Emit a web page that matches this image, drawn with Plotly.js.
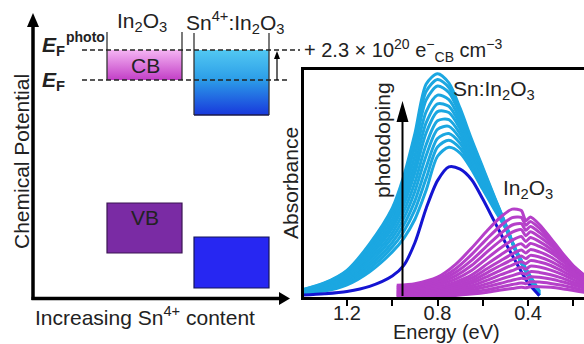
<!DOCTYPE html>
<html>
<head>
<meta charset="utf-8">
<script src="https://cdn.plot.ly/plotly-3.0.1.min.js"></script>
<style>
  html, body { margin: 0; padding: 0; overflow: hidden; background: #fff; }
  #chart { width: 584px; height: 344px; }
</style>
</head>
<body>
<div id="chart"></div>
<script>
// ---- Absorbance spectra ----
// Energy grid (eV) of the Sn:In2O3 spectra
const snEnergy = [1.40, 1.30, 1.20, 1.10, 1.00, 0.95, 0.90, 0.85, 0.80, 0.75, 0.70, 0.65, 0.60, 0.55, 0.50, 0.45, 0.40, 0.35];

// Sn:In2O3 after successive photodoping steps (highest first)
const snPhotodoped = [
  [0.035, 0.065, 0.120, 0.235, 0.390, 0.527, 0.714, 0.930, 0.975, 0.935, 0.824, 0.691, 0.567, 0.443, 0.322, 0.193, 0.096, 0.010],
  [0.034, 0.063, 0.116, 0.227, 0.377, 0.508, 0.688, 0.898, 0.950, 0.915, 0.810, 0.682, 0.560, 0.439, 0.321, 0.194, 0.097, 0.011],
  [0.033, 0.060, 0.111, 0.217, 0.362, 0.487, 0.658, 0.861, 0.921, 0.893, 0.795, 0.671, 0.553, 0.435, 0.319, 0.194, 0.098, 0.013],
  [0.031, 0.056, 0.104, 0.204, 0.341, 0.457, 0.617, 0.810, 0.882, 0.862, 0.774, 0.657, 0.542, 0.428, 0.317, 0.195, 0.100, 0.015],
  [0.030, 0.052, 0.097, 0.191, 0.321, 0.429, 0.578, 0.762, 0.844, 0.833, 0.753, 0.643, 0.532, 0.423, 0.315, 0.196, 0.101, 0.017],
  [0.028, 0.049, 0.091, 0.179, 0.303, 0.403, 0.543, 0.718, 0.810, 0.806, 0.735, 0.631, 0.523, 0.417, 0.314, 0.196, 0.102, 0.019],
  [0.026, 0.045, 0.084, 0.166, 0.282, 0.374, 0.502, 0.667, 0.770, 0.775, 0.713, 0.616, 0.513, 0.411, 0.312, 0.197, 0.104, 0.021],
  [0.025, 0.041, 0.078, 0.153, 0.262, 0.345, 0.463, 0.619, 0.733, 0.746, 0.693, 0.603, 0.503, 0.405, 0.310, 0.198, 0.105, 0.024],
  [0.023, 0.038, 0.071, 0.140, 0.241, 0.316, 0.422, 0.568, 0.693, 0.715, 0.672, 0.588, 0.492, 0.399, 0.308, 0.199, 0.107, 0.026],
  [0.022, 0.034, 0.064, 0.127, 0.221, 0.288, 0.383, 0.520, 0.656, 0.686, 0.651, 0.574, 0.483, 0.393, 0.306, 0.199, 0.108, 0.028],
  [0.020, 0.030, 0.057, 0.114, 0.200, 0.258, 0.342, 0.469, 0.616, 0.655, 0.630, 0.560, 0.472, 0.387, 0.304, 0.200, 0.110, 0.030]
];

// Sn:In2O3 before photodoping
const snAsPrepared = [0.012, 0.018, 0.028, 0.050, 0.095, 0.140, 0.240, 0.390, 0.510, 0.570, 0.560, 0.515, 0.430, 0.335, 0.240, 0.150, 0.065, 0.010];

// Energy grid (eV) of the In2O3 spectra
const inEnergy = [0.98, 0.90, 0.80, 0.72, 0.65, 0.58, 0.52, 0.47, 0.43, 0.41, 0.39, 0.35, 0.30, 0.25, 0.20, 0.15, 0.10];

// In2O3 photodoping series (highest first)
const inSpectra = [
  [0.055, 0.062, 0.090, 0.146, 0.216, 0.293, 0.353, 0.386, 0.380, 0.335, 0.352, 0.319, 0.260, 0.197, 0.140, 0.098, 0.063],
  [0.050, 0.056, 0.080, 0.127, 0.188, 0.259, 0.315, 0.349, 0.350, 0.316, 0.332, 0.303, 0.250, 0.193, 0.138, 0.096, 0.063],
  [0.045, 0.051, 0.071, 0.111, 0.163, 0.228, 0.281, 0.317, 0.323, 0.294, 0.310, 0.285, 0.240, 0.187, 0.137, 0.096, 0.063],
  [0.042, 0.046, 0.063, 0.096, 0.141, 0.201, 0.250, 0.286, 0.297, 0.270, 0.288, 0.266, 0.228, 0.181, 0.134, 0.094, 0.064],
  [0.037, 0.041, 0.055, 0.082, 0.119, 0.173, 0.218, 0.251, 0.267, 0.245, 0.263, 0.245, 0.213, 0.172, 0.128, 0.091, 0.062],
  [0.033, 0.036, 0.047, 0.069, 0.099, 0.148, 0.188, 0.219, 0.236, 0.220, 0.237, 0.224, 0.198, 0.161, 0.122, 0.087, 0.060],
  [0.028, 0.031, 0.041, 0.059, 0.086, 0.128, 0.163, 0.191, 0.208, 0.195, 0.210, 0.200, 0.178, 0.146, 0.112, 0.080, 0.055],
  [0.025, 0.028, 0.035, 0.050, 0.074, 0.110, 0.142, 0.166, 0.182, 0.171, 0.185, 0.178, 0.159, 0.132, 0.101, 0.073, 0.051],
  [0.022, 0.024, 0.030, 0.042, 0.063, 0.093, 0.121, 0.143, 0.157, 0.149, 0.162, 0.156, 0.141, 0.117, 0.091, 0.066, 0.046],
  [0.018, 0.020, 0.025, 0.035, 0.052, 0.077, 0.101, 0.119, 0.133, 0.125, 0.138, 0.134, 0.121, 0.102, 0.079, 0.058, 0.041],
  [0.015, 0.016, 0.020, 0.028, 0.042, 0.062, 0.082, 0.097, 0.108, 0.103, 0.114, 0.111, 0.101, 0.086, 0.067, 0.050, 0.035],
  [0.012, 0.013, 0.016, 0.021, 0.033, 0.049, 0.064, 0.077, 0.086, 0.083, 0.092, 0.090, 0.082, 0.070, 0.056, 0.041, 0.029],
  [0.009, 0.010, 0.012, 0.016, 0.025, 0.036, 0.048, 0.058, 0.065, 0.062, 0.070, 0.069, 0.063, 0.055, 0.044, 0.032, 0.023],
  [0.006, 0.007, 0.008, 0.011, 0.017, 0.025, 0.034, 0.041, 0.046, 0.044, 0.049, 0.049, 0.046, 0.040, 0.032, 0.024, 0.017]
];

// Energy axis ticks
const energyTicks = [1.2, 1.0, 0.8, 0.6, 0.4, 0.2];
const energyTickText = ['1.2', '', '0.8', '', '0.4', ''];

// ---- Styling ----
const FONT = 'Liberation Sans, Arial, Helvetica, sans-serif';
const INK = '#222';
const CYAN = '#1ba7e1';
const NAVY = '#1414d2';
const MAGENTA = '#b53fc9';

const traces = [];

// Sn:In2O3 photodoping series (lowest drawn first)
for (let i = snPhotodoped.length - 1; i >= 0; i--) {
  traces.push({
    type: 'scatter', mode: 'lines', x: snEnergy, y: snPhotodoped[i],
    line: {color: CYAN, width: 3, shape: 'spline', smoothing: 0.8},
    hoverinfo: 'skip', showlegend: false, xaxis: 'x', yaxis: 'y'
  });
}
traces.push({
  type: 'scatter', mode: 'lines', x: snEnergy, y: snAsPrepared,
  line: {color: NAVY, width: 3, shape: 'spline', smoothing: 0.8},
  hoverinfo: 'skip', showlegend: false, xaxis: 'x', yaxis: 'y'
});
// In2O3 series on top
for (let i = inSpectra.length - 1; i >= 0; i--) {
  traces.push({
    type: 'scatter', mode: 'lines', x: inEnergy, y: inSpectra[i],
    line: {color: MAGENTA, width: 3, shape: 'spline', smoothing: 0.7},
    hoverinfo: 'skip', showlegend: false, xaxis: 'x', yaxis: 'y'
  });
}

// ---- Band diagram (drawn on a pixel-scaled overlay axis pair) ----
function bandBox(x0, x1, y0, y1, scale) {
  return {
    type: 'scatter', mode: 'lines',
    x: [x0, x1, x1, x0, x0], y: [y0, y0, y1, y1, y0],
    fill: 'toself',
    fillgradient: {type: 'vertical', colorscale: scale, start: y0, stop: y1},
    line: {width: 0},
    hoverinfo: 'skip', showlegend: false, xaxis: 'x2', yaxis: 'y2'
  };
}
traces.push(bandBox(107, 182, 50, 80, [[0, '#f5b4f3'], [1, '#c23fc6']]));
traces.push(bandBox(194, 269, 50, 115, [[0, '#52c8f2'], [0.45, '#2c9ee8'], [1, '#1838dc']]));

const P = {xref: 'x2', yref: 'y2'};
function line(x0, y0, x1, y1, width, color, dash) {
  return Object.assign({type: 'line', x0, y0, x1, y1, line: {width, color, dash: dash || 'solid'}}, P);
}
function tri(path) {
  return Object.assign({type: 'path', path, fillcolor: '#000', line: {width: 0}}, P);
}
const shapes = [
  // chemical potential axis and composition axis
  line(33, 300, 33, 24, 3.5, '#000'),
  tri('M 27 27 L 33 13 L 39 27 Z'),
  line(31.5, 298.5, 281, 298.5, 3.5, '#000'),
  tri('M 279 292 L 290 298.5 L 279 305 Z'),
  // valence bands
  Object.assign({type: 'rect', x0: 107, x1: 182, y0: 203, y1: 253, fillcolor: '#7a2ba4', line: {width: 1.2, color: '#3a1452'}}, P),
  Object.assign({type: 'rect', x0: 194, x1: 269, y0: 237, y1: 288, fillcolor: '#2727f2', line: {width: 1.2, color: '#14145a'}}, P),
  // conduction band walls
  line(107, 32, 107, 80, 1.3, '#333'),
  line(182, 32, 182, 80, 1.3, '#333'),
  line(194, 33, 194, 115, 1.3, '#333'),
  line(269, 33, 269, 115, 1.3, '#333'),
  line(194, 115, 269, 115, 1.3, '#1a1a4a'),
  // Fermi levels
  line(82, 50, 300, 50, 1.5, '#222', '5px,3px'),
  line(82, 80, 289, 80, 1.5, '#222', '5px,3px'),
  // Fermi level shift arrow
  line(277, 80, 277, 58, 1.2, '#000'),
  tri('M 274 59 L 277 51 L 280 59 Z'),
  // photodoping arrow
  line(402.5, 296, 402.5, 118, 2, '#000'),
  tri('M 396.5 122 L 402.5 101 L 408.5 122 Z')
];

function label(text, x, y, opts) {
  return Object.assign({
    text, x, y, xref: 'x2', yref: 'y2', showarrow: false,
    xanchor: 'center', yanchor: 'middle',
    font: {family: FONT, size: 21, color: INK}
  }, opts || {});
}
const annotations = [
  label('Chemical Potential', 21, 162, {textangle: -90}),
  label('Increasing Sn<sup>4+</sup> content', 145, 316),
  label('In<sub>2</sub>O<sub>3</sub>', 142, 22),
  label('Sn<sup>4+</sup>:In<sub>2</sub>O<sub>3</sub>', 235, 22),
  label('<b><i>E</i></b><sub><b>F</b></sub>', 40, 46, {xanchor: 'left'}),
  label('<b>photo</b>', 64, 37, {xanchor: 'left', font: {family: FONT, size: 14, color: INK}}),
  label('<b><i>E</i></b><sub><b>F</b></sub>', 40, 81, {xanchor: 'left'}),
  label('CB', 145, 65),
  label('VB', 145, 217),
  label('+ 2.3 \u00d7 10<sup>20</sup> e<sup>\u2212</sup><sub>CB</sub> cm<sup>\u22123</sup>', 302, 50,
        {xanchor: 'left', font: {family: FONT, size: 20, color: INK}}),
  label('Absorbance', 290, 183, {textangle: -90}),
  label('photodoping', 382, 140, {textangle: -90}),
  label('Sn:In<sub>2</sub>O<sub>3</sub>', 451, 90, {xanchor: 'left'}),
  label('In<sub>2</sub>O<sub>3</sub>', 501, 189, {xanchor: 'left'}),
  label('Energy (eV)', 446, 332, {font: {family: FONT, size: 20, color: INK}})
];

const layout = {
  width: 584, height: 344,
  margin: {l: 0, r: 0, t: 0, b: 0},
  paper_bgcolor: '#fff', plot_bgcolor: 'rgba(0,0,0,0)',
  showlegend: false,
  font: {family: FONT, color: INK},
  xaxis: {
    domain: [303.5 / 584, 1], range: [1.392, 0.153], anchor: 'y',
    showgrid: false, zeroline: false,
    showline: true, linewidth: 3, linecolor: '#000', mirror: true,
    ticks: 'outside', ticklen: 6, tickwidth: 2, tickcolor: '#000',
    tickvals: energyTicks, ticktext: energyTickText,
    ticklabelstandoff: -10,
    tickfont: {family: FONT, size: 20, color: INK}
  },
  yaxis: {
    domain: [47 / 344, 274 / 344], range: [0.004, 0.991], anchor: 'x',
    showgrid: false, zeroline: false, showticklabels: false, ticks: '',
    showline: true, linewidth: 3, linecolor: '#000'
  },
  xaxis2: {domain: [0, 1], range: [0, 584], anchor: 'y2', visible: false, fixedrange: true},
  yaxis2: {domain: [0, 1], range: [344, 0], anchor: 'x2', visible: false, fixedrange: true},
  shapes, annotations
};

Plotly.newPlot('chart', traces, layout, {staticPlot: true, displayModeBar: false});
</script>
</body>
</html>
